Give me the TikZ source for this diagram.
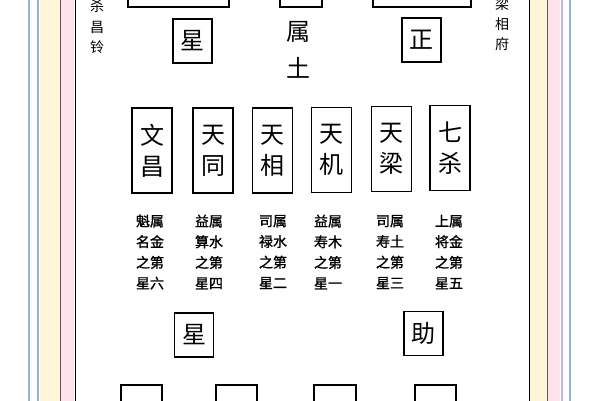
\documentclass[tikz,border=0pt]{standalone}
\usepackage{fontspec}
\newfontfamily\cjk{Noto Sans CJK SC}
\newfontfamily\cjkb[FakeBold=1.2]{Noto Sans CJK SC}
\definecolor{bblue}{RGB}{150,180,215}
\definecolor{byellow}{RGB}{255,246,218}
\definecolor{bpink}{RGB}{255,226,234}
\definecolor{bdark}{RGB}{95,85,95}
\definecolor{blav}{RGB}{190,185,225}
\tikzset{
  sq/.style={draw, line width=1.6pt, minimum width=39pt, minimum height=44pt, inner sep=0pt, font=\cjk\fontsize{24}{24}\selectfont},
  tall/.style={draw, line width=1.6pt, minimum width=40pt, minimum height=85pt, inner sep=0pt, align=center, font=\cjk\fontsize{24}{31}\selectfont},
  big/.style={inner sep=0pt, font=\cjk\fontsize{24}{24}\selectfont},
  side/.style={inner sep=0pt, font=\cjk\fontsize{14}{14}\selectfont},
  small/.style={inner sep=0pt, align=center, font=\cjkb\fontsize{14}{20.7}\selectfont},
  topbox/.style={draw, line width=1.6pt}
}
\begin{document}
\begin{tikzpicture}[x=1pt,y=-1pt]
\useasboundingbox (0,0) rectangle (600,400);
\clip (0,0) rectangle (600,400);
\fill[white] (0,0) rectangle (600,400);
% left border
\fill[byellow] (40,-5) rectangle (60,405);
\fill[bpink] (61,-5) rectangle (74,405);
\draw[bblue, line width=1.4pt] (29,-5) -- (29,405);
\draw[bblue, line width=1.4pt] (38,-5) -- (38,405);
\draw[bdark, line width=1pt] (60.5,-5) -- (60.5,405);
\draw[black, line width=1.2pt] (75.5,-5) -- (75.5,405);
% right border
\fill[byellow] (530,-5) rectangle (547,405);
\fill[bpink] (548,-5) rectangle (560,405);
\draw[black, line width=1.2pt] (529.5,-5) -- (529.5,405);
\draw[bdark, line width=1pt] (547.5,-5) -- (547.5,405);
\draw[blav, line width=1.2pt] (562,-5) -- (562,405);
\draw[bblue, line width=1.4pt] (570,-5) -- (570,405);
% top cropped boxes
\node[topbox, minimum width=101pt, minimum height=30pt, inner sep=0pt] (tl) at (178.5,-8) {};
\node[topbox, minimum width=42pt, minimum height=30pt, inner sep=0pt] (tm) at (301,-8) {};
\node[topbox, minimum width=98pt, minimum height=30pt, inner sep=0pt] (tr) at (422,-8) {};
% side columns
\node[side] (l1) at (97,6) {杀};
\node[side] (l2) at (97,27) {昌};
\node[side] (l3) at (97,47) {铃};
\node[side] (r1) at (502,4) {梁};
\node[side] (r2) at (502,24) {相};
\node[side] (r3) at (502,44) {府};
% second row
\node[sq] (xing1) at (192.5,41) {星};
\node[sq] (zheng) at (421.5,40) {正};
\node[big] (shu) at (298,32) {属};
\node[big] (tu) at (298,68) {土};
% tall boxes
\node[tall] (wc) at (152,150.5) {文\\昌};
\node[tall] (tt) at (213,150.5) {天\\同};
\node[tall] (tx) at (272.5,150.5) {天\\相};
\node[tall] (tj) at (331.5,150) {天\\机};
\node[tall] (tl2) at (391.5,149) {天\\梁};
\node[tall] (qs) at (450,148) {七\\杀};
% small text
\node[small] (s1) at (150,252) {魁属\\名金\\之第\\星六};
\node[small] (s2) at (209,252) {益属\\算水\\之第\\星四};
\node[small] (s3) at (273,252) {司属\\禄水\\之第\\星二};
\node[small] (s4) at (328,252) {益属\\寿木\\之第\\星一};
\node[small] (s5) at (390,252) {司属\\寿土\\之第\\星三};
\node[small] (s6) at (449,252) {上属\\将金\\之第\\星五};
% lower row
\node[sq] (xing2) at (194,335) {星};
\node[sq] (zhu) at (423.5,333.5) {助};
% bottom cropped boxes
\node[topbox, minimum width=41pt, minimum height=40pt, inner sep=0pt] (b1) at (141.5,405) {};
\node[topbox, minimum width=41pt, minimum height=40pt, inner sep=0pt] (b2) at (236.5,405) {};
\node[topbox, minimum width=42pt, minimum height=40pt, inner sep=0pt] (b3) at (335,405) {};
\node[topbox, minimum width=41pt, minimum height=40pt, inner sep=0pt] (b4) at (435.5,405) {};
\end{tikzpicture}
\end{document}
